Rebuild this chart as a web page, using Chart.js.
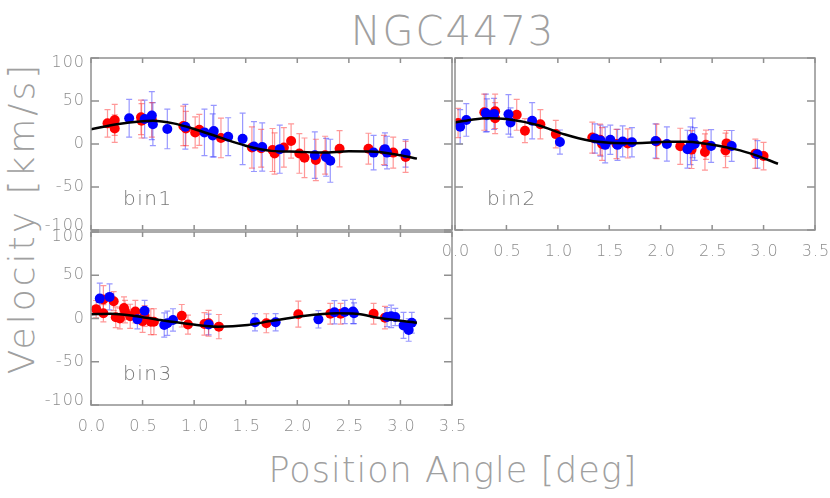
<!DOCTYPE html>
<html><head><meta charset="utf-8">
<script src="https://cdn.jsdelivr.net/npm/chart.js@4/dist/chart.umd.min.js"></script>
<style>
html,body{margin:0;padding:0;background:#fff;}
#wrap{position:relative;width:830px;height:498px;overflow:hidden;font-family:"DejaVu Sans",sans-serif;font-weight:200;}
.pc{position:absolute;}
#title{position:absolute;left:0;width:906px;top:7px;text-align:center;font-size:40px;color:#a0a0a0;letter-spacing:2px;line-height:48px;}
#ylab{position:absolute;left:22px;top:218px;transform:translate(-50%,-50%) rotate(-90deg);white-space:nowrap;font-size:36px;color:#a0a0a0;letter-spacing:3px;line-height:40px;}
#xlab{position:absolute;left:0;width:906px;top:449px;text-align:center;font-size:35px;color:#a0a0a0;letter-spacing:1px;line-height:42px;}
</style></head>
<body><div id="wrap">
<div id="title">NGC4473</div>
<div id="ylab">Velocity [km/s]</div>
<div id="xlab">Position Angle [deg]</div>
<div class="pc" style="left:0;top:50px"><canvas id="c1" width="460" height="185"></canvas></div>
<div class="pc" style="left:430px;top:50px"><canvas id="c2" width="400" height="215"></canvas></div>
<div class="pc" style="left:0;top:225px"><canvas id="c3" width="480" height="215"></canvas></div>
</div>
<script>
// ---------- tick labels ----------
const xTicks = [0, 0.5, 1, 1.5, 2, 2.5, 3, 3.5];
const xTickLabels = ['0.0','0.5','1.0','1.5','2.0','2.5','3.0','3.5'];
const yTicks = [-100, -50, 0, 50, 100];
const yTickLabels = ['-100','-50','0','50','100'];
const binNames = ['bin1','bin2','bin3'];

// ---------- bin1 ----------
const bin1RedX = [0.16,0.23,0.23,0.485,0.49,0.59,0.895,0.92,1.01,1.05,1.26,1.56,1.65,1.76,1.78,1.87,1.94,2.02,2.07,2.18,2.27,2.41,2.69,2.84,2.93,3.05];
const bin1RedY = [24,28,18,31,27,28,21,18,13.5,16.5,7,-4,-5,-7,-11,-4,3.5,-11,-16,-18.5,-13,-5.5,-5.5,-7,-10,-15];
const bin1RedE = [16,18,16,20,20,20,23,20,18,18,23,24,22,25,24,23,20,23,23,24,22,21,18,17,18,18];
const bin1BlueX = [0.37,0.52,0.59,0.60,0.74,0.915,1.10,1.18,1.19,1.33,1.47,1.58,1.66,1.83,2.17,2.28,2.32,2.74,2.85,2.87,3.05];
const bin1BlueY = [30,29,33,23,17.5,20,13.5,10,15,8.5,6,-3,-3.5,-6,-13,-15.5,-19.5,-10,-6,-10,-11];
const bin1BlueE = [22,22,28,25,23,26,27,25,30,22,30,29,28,28,27,22,25,20,19,19,16];
const bin1FitX = [0,0.25,0.5,0.6,0.8,1.0,1.25,1.5,1.75,2.0,2.25,2.5,2.75,3.0,3.16];
const bin1FitY = [17,23,26.5,27,24,17.5,7.5,-2,-8,-9,-10,-8.5,-9,-13,-17];

// ---------- bin2 ----------
const bin2RedX = [0.03,0.285,0.39,0.39,0.60,0.68,0.83,0.98,1.335,1.41,1.43,1.57,1.68,1.96,2.19,2.30,2.43,2.44,2.63,2.64,2.92,3.0];
const bin2RedY = [24.5,37,38,30,34,15.5,23,11.5,7.5,5,0,0,0.7,3,-2.7,-6.5,-9.3,-0.8,-7.4,0.7,-11.3,-14];
const bin2RedE = [17,21,20,18,18,14,17,16,18,18,19,17,17,20,21,22,21,17,20,15,17,16];
const bin2BlueX = [0.05,0.11,0.30,0.31,0.38,0.52,0.54,0.75,1.02,1.36,1.415,1.46,1.51,1.58,1.63,1.72,1.95,2.06,2.26,2.29,2.31,2.33,2.49,2.69,2.94];
const bin2BlueY = [20,28,36,33.5,35,34.5,25,27,2.3,6.5,4,-1,5,-1,3,2,3.5,0,-6,-2,7,0,-2.3,-2.3,-12];
const bin2BlueE = [20,19,22,19,18,23,17,21,14,17,18,21,17,18,18,17,20,20,22,22,23,19,19,18,16];
const bin2FitX = [0,0.15,0.32,0.5,0.8,1.07,1.3,1.5,1.75,2.08,2.25,2.4,2.56,2.72,2.9,3.14];
const bin2FitY = [25,28,30,29,22,11,4,1.5,1,2.5,2.5,1,-2,-6,-12,-23];

// ---------- bin3 ----------
const bin3RedX = [0.05,0.12,0.12,0.22,0.24,0.28,0.32,0.33,0.38,0.43,0.50,0.52,0.58,0.61,0.88,0.94,1.10,1.14,1.24,1.70,2.01,2.32,2.42,2.74,2.85];
const bin3RedY = [10.8,22,6,20,1.5,0,12,8,2.5,8,-3,3,-3.7,-3.7,3.2,-7,-6.3,-5.5,-9.4,-5.5,5,5.5,5.5,5.5,1];
const bin3RedE = [10,16,10,11,12,12,13,13,14,13,13,12,15,15,13,11,13,15,14,11,15,12,12,12,13];
const bin3BlueX = [0.085,0.18,0.45,0.52,0.71,0.74,0.795,1.14,1.59,1.79,2.205,2.36,2.46,2.54,2.55,2.87,2.91,2.95,3.03,3.08,3.11];
const bin3BlueY = [23,25,-1,9,-7.5,-5.5,-1.7,-7,-4.4,-4.4,-1,7.2,7.5,8,6,1.7,2.5,1.7,-8,-13.3,-5];
const bin3BlueE = [18,15,11,12,14,14,13,12,10,10,10,13.5,13.5,14,12,11,13,10,15,13,12];
const bin3FitX = [0,0.19,0.42,0.65,0.97,1.23,1.52,1.74,2.06,2.38,2.57,2.8,3.16];
const bin3FitY = [5,5.5,3,-1.4,-6.7,-9.5,-7.5,-3,3,6,5.5,0.5,-5];

// ---------- styles ----------
const RED = '#ff0000', BLUE = '#0000ff';
const RED_ERR = 'rgba(255,50,50,0.5)', BLUE_ERR = 'rgba(50,50,255,0.5)';
const FRAME = '#909090', TICKTXT = '#8c8c8c', BINTXT = '#7a7a7a';
const TICKFONT = '200 16px "DejaVu Sans"';

const pts = (xs, ys) => xs.map((x, i) => ({x, y: ys[i]}));

const errPlugin = {
  id: 'errbars',
  beforeDatasetsDraw(chart) {
    const {ctx, scales: {x, y}} = chart;
    ctx.save();
    chart.data.datasets.forEach(ds => {
      if (!ds.err) return;
      ctx.strokeStyle = ds.errColor;
      ctx.lineWidth = 1.2;
      ds.data.forEach((p, i) => {
        const px = x.getPixelForValue(p.x);
        const y1 = y.getPixelForValue(p.y - ds.err[i]);
        const y2 = y.getPixelForValue(p.y + ds.err[i]);
        ctx.beginPath();
        ctx.moveTo(px, y1); ctx.lineTo(px, y2);
        ctx.moveTo(px - 3, y1); ctx.lineTo(px + 3, y1);
        ctx.moveTo(px - 3, y2); ctx.lineTo(px + 3, y2);
        ctx.stroke();
      });
    });
    ctx.restore();
  }
};

const framePlugin = {
  id: 'frame',
  afterDraw(chart) {
    const o = chart.options.plugins.frame;
    const {ctx, chartArea: a, scales: {x, y}} = chart;
    ctx.save();
    ctx.strokeStyle = FRAME;
    ctx.lineWidth = 1.5;
    ctx.strokeRect(a.left, a.top, a.right - a.left, a.bottom - a.top);
    ctx.beginPath();
    xTicks.forEach(v => {
      const px = x.getPixelForValue(v);
      ctx.moveTo(px, a.top); ctx.lineTo(px, a.top + 5);
      ctx.moveTo(px, a.bottom); ctx.lineTo(px, a.bottom - 5);
    });
    yTicks.forEach(v => {
      const py = y.getPixelForValue(v);
      ctx.moveTo(a.left, py); ctx.lineTo(a.left + 8, py);
      ctx.moveTo(a.right, py); ctx.lineTo(a.right - 8, py);
    });
    ctx.stroke();
    ctx.fillStyle = TICKTXT;
    ctx.font = TICKFONT;
    if ('letterSpacing' in ctx) ctx.letterSpacing = '1px';
    if (o.yLabels) {
      ctx.textAlign = 'right'; ctx.textBaseline = 'middle';
      yTicks.forEach((v, i) => {
        let py = y.getPixelForValue(v);
        if (v === 100) py += 5;
        if (v === -100) py -= 4;
        ctx.fillText(yTickLabels[i], a.left - 6, py);
      });
    }
    if (o.xLabels) {
      ctx.textAlign = 'center'; ctx.textBaseline = 'top';
      xTicks.forEach((v, i) => {
        ctx.fillText(xTickLabels[i], x.getPixelForValue(v) + 1, a.bottom + 14);
      });
    }
    ctx.fillStyle = BINTXT;
    ctx.font = '200 20px "DejaVu Sans"';
    if ('letterSpacing' in ctx) ctx.letterSpacing = '1.5px';
    ctx.textAlign = 'left'; ctx.textBaseline = 'alphabetic';
    ctx.fillText(o.name, a.left + 32, a.bottom - 25);
    ctx.restore();
  }
};

function makeChart(id, pad, name, showY, showX, rx, ry, re, bx, by, be, fx, fy) {
  return new Chart(document.getElementById(id), {
    type: 'scatter',
    data: {
      datasets: [
        {type: 'line', data: pts(fx, fy), borderColor: '#000', borderWidth: 2.5, pointRadius: 0,
         cubicInterpolationMode: 'monotone', fill: false},
        {data: pts(bx, by), err: be, errColor: BLUE_ERR, backgroundColor: BLUE, borderColor: BLUE,
         pointRadius: 5, borderWidth: 0},
        {data: pts(rx, ry), err: re, errColor: RED_ERR, backgroundColor: RED, borderColor: RED,
         pointRadius: 5, borderWidth: 0}
      ]
    },
    options: {
      responsive: false, animation: false, events: [],
      layout: {padding: pad},
      scales: {
        x: {type: 'linear', min: 0, max: 3.5, display: false},
        y: {type: 'linear', min: -100, max: 100, display: false}
      },
      plugins: {
        legend: {display: false}, tooltip: {enabled: false},
        frame: {name, yLabels: showY, xLabels: showX}
      }
    },
    plugins: [errPlugin, framePlugin]
  });
}

makeChart('c1', {left: 91, top: 8, right: 8, bottom: 5}, binNames[0], true, false,
  bin1RedX, bin1RedY, bin1RedE, bin1BlueX, bin1BlueY, bin1BlueE, bin1FitX, bin1FitY);
makeChart('c2', {left: 25, top: 8, right: 15, bottom: 35}, binNames[1], false, true,
  bin2RedX, bin2RedY, bin2RedE, bin2BlueX, bin2BlueY, bin2BlueE, bin2FitX, bin2FitY);
makeChart('c3', {left: 91, top: 7, right: 28, bottom: 35}, binNames[2], true, true,
  bin3RedX, bin3RedY, bin3RedE, bin3BlueX, bin3BlueY, bin3BlueE, bin3FitX, bin3FitY);
</script>
</body></html>
